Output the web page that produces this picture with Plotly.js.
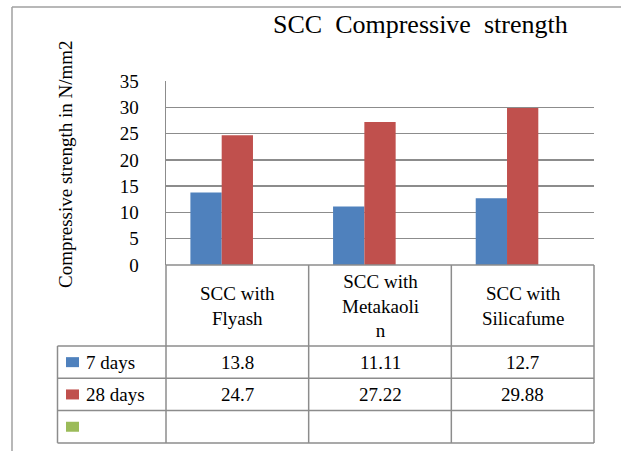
<!DOCTYPE html>
<html><head><meta charset="utf-8">
<script src="https://cdn.plot.ly/plotly-3.0.1.min.js"></script>
<style>html,body{margin:0;padding:0;background:#fff}#chart{width:621px;height:451px}</style>
</head><body><div id="chart"></div>
<script>
// ---- data ----
const categories = ["SCC with Flyash", "SCC with Metakaolin", "SCC with Silicafume"];
const headerLabels = ["SCC with<br>Flyash", "SCC with<br>Metakaoli<br>n", "SCC with<br>Silicafume"];
const seriesNames = ["7 days", "28 days", ""];
const days7 = [13.8, 11.11, 12.7];
const days28 = [24.7, 27.22, 29.88];
const series3 = [null, null, null];
const yTickVals = [0, 5, 10, 15, 20, 25, 30, 35];
const chartTitle = "SCC  Compressive  strength";
const yTitle = "Compressive strength in N/mm2";

// ---- style ----
const colors = ["#4F81BD", "#C0504D", "#9BBB59"];
const FONT = "Liberation Serif";
const W = 621, H = 451;
const L = 166, R = 594, T = 81, B = 265;
const xp = px => (px - L) / (R - L);
const yp = py => (B - py) / (B - T);
const lineCol = "#8c8c8c";
const txtCol = "#000";

const allSeries = [days7, days28, series3];
const traces = allSeries.map((vals, i) => ({
  type: "bar", x: categories, y: vals, name: seriesNames[i],
  marker: {color: colors[i], line: {width: 0}}, hoverinfo: "skip"
}));

const shapes = [];
const line = (x0, y0, x1, y1, col, w) => shapes.push({type: "line", xref: "paper", yref: "paper",
  x0: xp(x0), y0: yp(y0), x1: xp(x1), y1: yp(y1), line: {color: col || lineCol, width: w || 1.5}});

// outer chart border (cropped)
line(12, 7, 625, 7, "#a0a0a0", 1.5);
line(12, 7, 12, 455, "#a0a0a0", 1.5);

// table geometry
const tableLeft = 57.5, headerBottom = 346, rowH = 32.3;
const nRows = seriesNames.length;
const colEdges = categories.map((c, i) => L + (R - L) * (i + 1) / categories.length);
const tableBottom = headerBottom + rowH * nRows;
line(L, B, R, B);
for (let r = 0; r <= nRows; r++) line(tableLeft, headerBottom + r * rowH, R, headerBottom + r * rowH);
line(L, B, L, tableBottom);
colEdges.forEach(x => line(x, B, x, tableBottom));
line(tableLeft, headerBottom, tableLeft, tableBottom);

const annotations = [];
// title
annotations.push({xref: "paper", yref: "paper", x: xp(420), y: yp(24), xanchor: "center", yanchor: "middle",
  text: chartTitle, showarrow: false, font: {family: FONT, size: 26, color: txtCol}});
// y title
annotations.push({xref: "paper", yref: "paper", x: xp(65), y: yp(164), xanchor: "center", yanchor: "middle",
  text: yTitle, textangle: -90, showarrow: false, font: {family: FONT, size: 19, color: txtCol}});
// header labels
categories.forEach((c, i) => annotations.push({xref: "x", yref: "paper", x: c, y: yp((B + headerBottom) / 2),
  xanchor: "center", yanchor: "middle", text: headerLabels[i], showarrow: false,
  font: {family: FONT, size: 19, color: txtCol}}));
// rows
allSeries.forEach((vals, r) => {
  const cy = headerBottom + rowH * (r + 0.5);
  shapes.push({type: "rect", xref: "paper", yref: "paper", x0: xp(66), x1: xp(79), y0: yp(cy - 5), y1: yp(cy + 5),
    fillcolor: colors[r], line: {width: 0}});
  annotations.push({xref: "paper", yref: "paper", x: xp(84), y: yp(cy), xanchor: "left", yanchor: "middle",
    text: seriesNames[r], showarrow: false, font: {family: FONT, size: 19, color: txtCol}});
  vals.forEach((v, i) => {
    if (v === null) return;
    annotations.push({xref: "x", yref: "paper", x: categories[i], y: yp(cy), xanchor: "center", yanchor: "middle",
      text: String(v), showarrow: false, font: {family: FONT, size: 19, color: txtCol}});
  });
});

const layout = {
  width: W, height: H, margin: {l: L, r: W - R, t: T, b: H - B},
  paper_bgcolor: "#fff", plot_bgcolor: "#fff",
  barmode: "group", bargap: 0.342, bargroupgap: 0, showlegend: false,
  xaxis: {type: "category", range: [-0.5, 2.5], showticklabels: false, showgrid: false, zeroline: false,
    showline: false, ticks: ""},
  yaxis: {range: [0, 35], tickvals: yTickVals, showgrid: true, gridcolor: lineCol, gridwidth: 1.5,
    zeroline: false, showline: true, linecolor: lineCol, linewidth: 1.5, ticks: "",
    ticklabelstandoff: 22, tickfont: {family: FONT, size: 19, color: txtCol}},
  shapes, annotations
};
Plotly.newPlot("chart", traces, layout, {staticPlot: true, displayModeBar: false});
</script></body></html>
